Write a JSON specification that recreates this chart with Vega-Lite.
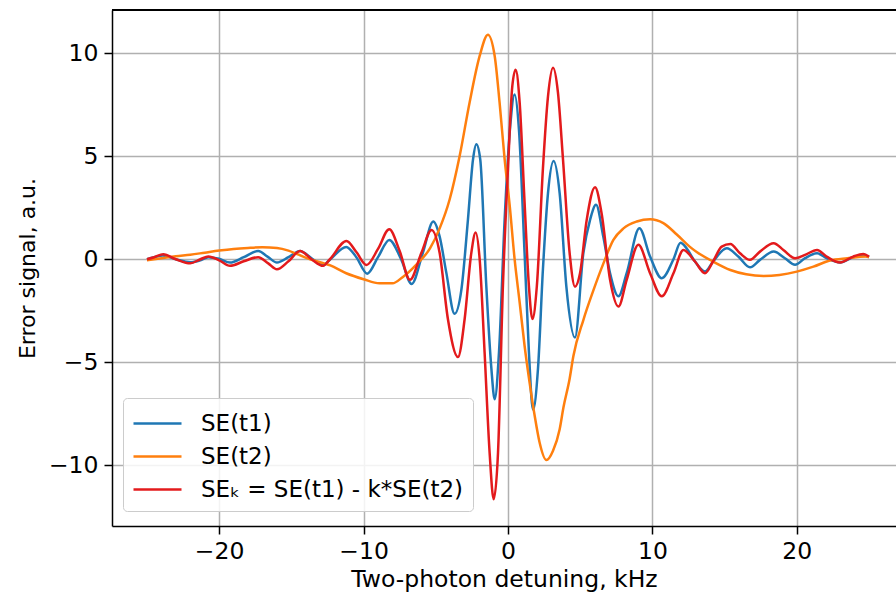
{
  "$schema": "https://vega.github.io/schema/vega-lite/v6.json",
  "autosize": "none",
  "width": 784,
  "height": 516,
  "padding": {"left": 112, "top": 10, "right": 0, "bottom": 75},
  "background": "white",
  "config": {
    "font": "DejaVu Sans",
    "view": {"stroke": null},
    "axis": {
      "labelFont": "DejaVu Sans", "labelFontSize": 23.5, "labelColor": "#000",
      "titleFont": "DejaVu Sans", "titleFontSize": 23.5, "titleFontWeight": "normal", "titleColor": "#000",
      "domainColor": "#000", "domainWidth": 1.5,
      "tickColor": "#000", "tickWidth": 1.5, "tickSize": 8,
      "gridColor": "#b0b0b0", "gridWidth": 1.5
    },
    "legend": {
      "labelFont": "DejaVu Sans", "labelFontSize": 23, "labelColor": "#000"
    }
  },
  "data": {"values": [
    {"x": -25.0, "y": 0.0, "s": "SE(t1)"},
    {"x": -24.5, "y": 0.1, "s": "SE(t1)"},
    {"x": -23.9, "y": 0.18, "s": "SE(t1)"},
    {"x": -23.0, "y": 0.0, "s": "SE(t1)"},
    {"x": -22.0, "y": -0.15, "s": "SE(t1)"},
    {"x": -21.3, "y": -0.05, "s": "SE(t1)"},
    {"x": -20.75, "y": 0.1, "s": "SE(t1)"},
    {"x": -20.0, "y": 0.02, "s": "SE(t1)"},
    {"x": -19.25, "y": -0.16, "s": "SE(t1)"},
    {"x": -18.3, "y": 0.1, "s": "SE(t1)"},
    {"x": -17.3, "y": 0.4, "s": "SE(t1)"},
    {"x": -16.6, "y": 0.1, "s": "SE(t1)"},
    {"x": -16.0, "y": -0.16, "s": "SE(t1)"},
    {"x": -15.2, "y": 0.1, "s": "SE(t1)"},
    {"x": -14.4, "y": 0.4, "s": "SE(t1)"},
    {"x": -13.6, "y": 0.05, "s": "SE(t1)"},
    {"x": -12.8, "y": -0.29, "s": "SE(t1)"},
    {"x": -12.3, "y": 0.0, "s": "SE(t1)"},
    {"x": -11.2, "y": 0.6, "s": "SE(t1)"},
    {"x": -10.5, "y": 0.1, "s": "SE(t1)"},
    {"x": -9.75, "y": -0.7, "s": "SE(t1)"},
    {"x": -9.0, "y": 0.1, "s": "SE(t1)"},
    {"x": -8.22, "y": 0.94, "s": "SE(t1)"},
    {"x": -7.4, "y": 0.0, "s": "SE(t1)"},
    {"x": -6.67, "y": -1.2, "s": "SE(t1)"},
    {"x": -5.9, "y": 0.3, "s": "SE(t1)"},
    {"x": -5.17, "y": 1.83, "s": "SE(t1)"},
    {"x": -4.73, "y": 1.1, "s": "SE(t1)"},
    {"x": -4.27, "y": -0.65, "s": "SE(t1)"},
    {"x": -3.7, "y": -2.65, "s": "SE(t1)"},
    {"x": -3.23, "y": -1.5, "s": "SE(t1)"},
    {"x": -2.77, "y": 1.94, "s": "SE(t1)"},
    {"x": -2.42, "y": 4.85, "s": "SE(t1)"},
    {"x": -2.19, "y": 5.58, "s": "SE(t1)"},
    {"x": -1.92, "y": 4.85, "s": "SE(t1)"},
    {"x": -1.5, "y": -1.3, "s": "SE(t1)"},
    {"x": -1.15, "y": -5.3, "s": "SE(t1)"},
    {"x": -0.92, "y": -6.8, "s": "SE(t1)"},
    {"x": -0.62, "y": -4.5, "s": "SE(t1)"},
    {"x": -0.23, "y": 1.94, "s": "SE(t1)"},
    {"x": 0.16, "y": 6.5, "s": "SE(t1)"},
    {"x": 0.46, "y": 8.0, "s": "SE(t1)"},
    {"x": 0.76, "y": 6.3, "s": "SE(t1)"},
    {"x": 1.15, "y": 0.3, "s": "SE(t1)"},
    {"x": 1.45, "y": -4.5, "s": "SE(t1)"},
    {"x": 1.73, "y": -7.3, "s": "SE(t1)"},
    {"x": 2.08, "y": -5.3, "s": "SE(t1)"},
    {"x": 2.42, "y": -0.5, "s": "SE(t1)"},
    {"x": 2.77, "y": 3.2, "s": "SE(t1)"},
    {"x": 3.16, "y": 4.77, "s": "SE(t1)"},
    {"x": 3.58, "y": 3.2, "s": "SE(t1)"},
    {"x": 4.04, "y": -1.3, "s": "SE(t1)"},
    {"x": 4.64, "y": -3.8, "s": "SE(t1)"},
    {"x": 5.22, "y": 0.3, "s": "SE(t1)"},
    {"x": 5.68, "y": 1.9, "s": "SE(t1)"},
    {"x": 6.1, "y": 2.64, "s": "SE(t1)"},
    {"x": 6.6, "y": 1.1, "s": "SE(t1)"},
    {"x": 7.07, "y": -0.68, "s": "SE(t1)"},
    {"x": 7.65, "y": -1.8, "s": "SE(t1)"},
    {"x": 8.22, "y": -0.68, "s": "SE(t1)"},
    {"x": 9.1, "y": 1.5, "s": "SE(t1)"},
    {"x": 9.84, "y": 0.13, "s": "SE(t1)"},
    {"x": 10.65, "y": -0.92, "s": "SE(t1)"},
    {"x": 11.46, "y": 0.0, "s": "SE(t1)"},
    {"x": 11.95, "y": 0.8, "s": "SE(t1)"},
    {"x": 12.37, "y": 0.53, "s": "SE(t1)"},
    {"x": 12.95, "y": -0.11, "s": "SE(t1)"},
    {"x": 13.64, "y": -0.6, "s": "SE(t1)"},
    {"x": 14.2, "y": -0.11, "s": "SE(t1)"},
    {"x": 15.15, "y": 0.53, "s": "SE(t1)"},
    {"x": 15.95, "y": 0.13, "s": "SE(t1)"},
    {"x": 16.76, "y": -0.39, "s": "SE(t1)"},
    {"x": 17.45, "y": -0.03, "s": "SE(t1)"},
    {"x": 18.4, "y": 0.37, "s": "SE(t1)"},
    {"x": 19.18, "y": 0.05, "s": "SE(t1)"},
    {"x": 19.88, "y": -0.27, "s": "SE(t1)"},
    {"x": 20.57, "y": 0.05, "s": "SE(t1)"},
    {"x": 21.4, "y": 0.29, "s": "SE(t1)"},
    {"x": 22.07, "y": 0.05, "s": "SE(t1)"},
    {"x": 23.0, "y": -0.16, "s": "SE(t1)"},
    {"x": 23.9, "y": 0.1, "s": "SE(t1)"},
    {"x": 24.6, "y": 0.2, "s": "SE(t1)"},
    {"x": 25.0, "y": 0.1, "s": "SE(t1)"},

    {"x": -25.0, "y": -0.05, "s": "SE(t2)"},
    {"x": -24.0, "y": 0.05, "s": "SE(t2)"},
    {"x": -23.0, "y": 0.15, "s": "SE(t2)"},
    {"x": -22.0, "y": 0.22, "s": "SE(t2)"},
    {"x": -21.0, "y": 0.32, "s": "SE(t2)"},
    {"x": -20.0, "y": 0.42, "s": "SE(t2)"},
    {"x": -19.0, "y": 0.5, "s": "SE(t2)"},
    {"x": -18.0, "y": 0.55, "s": "SE(t2)"},
    {"x": -17.0, "y": 0.58, "s": "SE(t2)"},
    {"x": -16.0, "y": 0.55, "s": "SE(t2)"},
    {"x": -15.2, "y": 0.42, "s": "SE(t2)"},
    {"x": -14.6, "y": 0.25, "s": "SE(t2)"},
    {"x": -13.7, "y": 0.0, "s": "SE(t2)"},
    {"x": -12.3, "y": -0.3, "s": "SE(t2)"},
    {"x": -11.2, "y": -0.68, "s": "SE(t2)"},
    {"x": -10.0, "y": -0.97, "s": "SE(t2)"},
    {"x": -8.9, "y": -1.17, "s": "SE(t2)"},
    {"x": -8.0, "y": -1.17, "s": "SE(t2)"},
    {"x": -7.3, "y": -0.87, "s": "SE(t2)"},
    {"x": -6.36, "y": -0.27, "s": "SE(t2)"},
    {"x": -5.4, "y": 0.53, "s": "SE(t2)"},
    {"x": -4.73, "y": 1.5, "s": "SE(t2)"},
    {"x": -4.04, "y": 2.9, "s": "SE(t2)"},
    {"x": -3.35, "y": 5.0, "s": "SE(t2)"},
    {"x": -2.66, "y": 7.6, "s": "SE(t2)"},
    {"x": -1.96, "y": 9.87, "s": "SE(t2)"},
    {"x": -1.39, "y": 10.9, "s": "SE(t2)"},
    {"x": -0.92, "y": 9.87, "s": "SE(t2)"},
    {"x": -0.58, "y": 7.6, "s": "SE(t2)"},
    {"x": -0.23, "y": 4.85, "s": "SE(t2)"},
    {"x": 0.12, "y": 2.6, "s": "SE(t2)"},
    {"x": 0.46, "y": 0.0, "s": "SE(t2)"},
    {"x": 0.81, "y": -2.1, "s": "SE(t2)"},
    {"x": 1.15, "y": -4.2, "s": "SE(t2)"},
    {"x": 1.5, "y": -6.0, "s": "SE(t2)"},
    {"x": 1.85, "y": -7.6, "s": "SE(t2)"},
    {"x": 2.19, "y": -8.9, "s": "SE(t2)"},
    {"x": 2.66, "y": -9.75, "s": "SE(t2)"},
    {"x": 3.12, "y": -9.3, "s": "SE(t2)"},
    {"x": 3.58, "y": -8.25, "s": "SE(t2)"},
    {"x": 3.84, "y": -7.2, "s": "SE(t2)"},
    {"x": 4.27, "y": -5.8, "s": "SE(t2)"},
    {"x": 4.53, "y": -4.7, "s": "SE(t2)"},
    {"x": 5.22, "y": -2.95, "s": "SE(t2)"},
    {"x": 5.92, "y": -1.5, "s": "SE(t2)"},
    {"x": 6.61, "y": -0.2, "s": "SE(t2)"},
    {"x": 7.3, "y": 0.94, "s": "SE(t2)"},
    {"x": 8.0, "y": 1.5, "s": "SE(t2)"},
    {"x": 8.92, "y": 1.83, "s": "SE(t2)"},
    {"x": 9.84, "y": 1.94, "s": "SE(t2)"},
    {"x": 10.76, "y": 1.75, "s": "SE(t2)"},
    {"x": 11.69, "y": 1.2, "s": "SE(t2)"},
    {"x": 12.6, "y": 0.6, "s": "SE(t2)"},
    {"x": 13.07, "y": 0.35, "s": "SE(t2)"},
    {"x": 14.2, "y": -0.11, "s": "SE(t2)"},
    {"x": 15.4, "y": -0.52, "s": "SE(t2)"},
    {"x": 16.5, "y": -0.73, "s": "SE(t2)"},
    {"x": 17.7, "y": -0.81, "s": "SE(t2)"},
    {"x": 18.8, "y": -0.76, "s": "SE(t2)"},
    {"x": 20.0, "y": -0.6, "s": "SE(t2)"},
    {"x": 21.15, "y": -0.36, "s": "SE(t2)"},
    {"x": 22.3, "y": -0.06, "s": "SE(t2)"},
    {"x": 23.5, "y": 0.05, "s": "SE(t2)"},
    {"x": 24.8, "y": 0.13, "s": "SE(t2)"},
    {"x": 25.0, "y": 0.1, "s": "SE(t2)"},

    {"x": -25.0, "y": 0.0, "s": "SEₖ = SE(t1) - k*SE(t2)"},
    {"x": -24.5, "y": 0.1, "s": "SEₖ = SE(t1) - k*SE(t2)"},
    {"x": -23.87, "y": 0.24, "s": "SEₖ = SE(t1) - k*SE(t2)"},
    {"x": -23.0, "y": 0.0, "s": "SEₖ = SE(t1) - k*SE(t2)"},
    {"x": -22.0, "y": -0.2, "s": "SEₖ = SE(t1) - k*SE(t2)"},
    {"x": -21.3, "y": 0.0, "s": "SEₖ = SE(t1) - k*SE(t2)"},
    {"x": -20.75, "y": 0.13, "s": "SEₖ = SE(t1) - k*SE(t2)"},
    {"x": -20.0, "y": -0.05, "s": "SEₖ = SE(t1) - k*SE(t2)"},
    {"x": -19.25, "y": -0.32, "s": "SEₖ = SE(t1) - k*SE(t2)"},
    {"x": -18.3, "y": -0.1, "s": "SEₖ = SE(t1) - k*SE(t2)"},
    {"x": -17.3, "y": 0.1, "s": "SEₖ = SE(t1) - k*SE(t2)"},
    {"x": -16.6, "y": -0.2, "s": "SEₖ = SE(t1) - k*SE(t2)"},
    {"x": -16.0, "y": -0.49, "s": "SEₖ = SE(t1) - k*SE(t2)"},
    {"x": -15.2, "y": -0.1, "s": "SEₖ = SE(t1) - k*SE(t2)"},
    {"x": -14.4, "y": 0.4, "s": "SEₖ = SE(t1) - k*SE(t2)"},
    {"x": -13.6, "y": 0.0, "s": "SEₖ = SE(t1) - k*SE(t2)"},
    {"x": -12.8, "y": -0.32, "s": "SEₖ = SE(t1) - k*SE(t2)"},
    {"x": -12.33, "y": 0.0, "s": "SEₖ = SE(t1) - k*SE(t2)"},
    {"x": -11.18, "y": 0.89, "s": "SEₖ = SE(t1) - k*SE(t2)"},
    {"x": -10.5, "y": 0.35, "s": "SEₖ = SE(t1) - k*SE(t2)"},
    {"x": -9.79, "y": -0.28, "s": "SEₖ = SE(t1) - k*SE(t2)"},
    {"x": -9.0, "y": 0.5, "s": "SEₖ = SE(t1) - k*SE(t2)"},
    {"x": -8.22, "y": 1.46, "s": "SEₖ = SE(t1) - k*SE(t2)"},
    {"x": -7.5, "y": 0.4, "s": "SEₖ = SE(t1) - k*SE(t2)"},
    {"x": -6.79, "y": -1.0, "s": "SEₖ = SE(t1) - k*SE(t2)"},
    {"x": -6.0, "y": 0.3, "s": "SEₖ = SE(t1) - k*SE(t2)"},
    {"x": -5.29, "y": 1.42, "s": "SEₖ = SE(t1) - k*SE(t2)"},
    {"x": -4.73, "y": 0.3, "s": "SEₖ = SE(t1) - k*SE(t2)"},
    {"x": -4.16, "y": -2.9, "s": "SEₖ = SE(t1) - k*SE(t2)"},
    {"x": -3.46, "y": -4.75, "s": "SEₖ = SE(t1) - k*SE(t2)"},
    {"x": -3.0, "y": -2.9, "s": "SEₖ = SE(t1) - k*SE(t2)"},
    {"x": -2.54, "y": 0.3, "s": "SEₖ = SE(t1) - k*SE(t2)"},
    {"x": -2.24, "y": 1.3, "s": "SEₖ = SE(t1) - k*SE(t2)"},
    {"x": -1.96, "y": 0.0, "s": "SEₖ = SE(t1) - k*SE(t2)"},
    {"x": -1.62, "y": -4.5, "s": "SEₖ = SE(t1) - k*SE(t2)"},
    {"x": -1.27, "y": -9.4, "s": "SEₖ = SE(t1) - k*SE(t2)"},
    {"x": -0.99, "y": -11.65, "s": "SEₖ = SE(t1) - k*SE(t2)"},
    {"x": -0.69, "y": -9.4, "s": "SEₖ = SE(t1) - k*SE(t2)"},
    {"x": -0.35, "y": -1.3, "s": "SEₖ = SE(t1) - k*SE(t2)"},
    {"x": 0.0, "y": 4.4, "s": "SEₖ = SE(t1) - k*SE(t2)"},
    {"x": 0.3, "y": 8.4, "s": "SEₖ = SE(t1) - k*SE(t2)"},
    {"x": 0.53, "y": 9.2, "s": "SEₖ = SE(t1) - k*SE(t2)"},
    {"x": 0.81, "y": 7.6, "s": "SEₖ = SE(t1) - k*SE(t2)"},
    {"x": 1.15, "y": 2.75, "s": "SEₖ = SE(t1) - k*SE(t2)"},
    {"x": 1.45, "y": -1.3, "s": "SEₖ = SE(t1) - k*SE(t2)"},
    {"x": 1.69, "y": -2.9, "s": "SEₖ = SE(t1) - k*SE(t2)"},
    {"x": 2.0, "y": -1.3, "s": "SEₖ = SE(t1) - k*SE(t2)"},
    {"x": 2.42, "y": 4.4, "s": "SEₖ = SE(t1) - k*SE(t2)"},
    {"x": 2.77, "y": 7.9, "s": "SEₖ = SE(t1) - k*SE(t2)"},
    {"x": 3.12, "y": 9.3, "s": "SEₖ = SE(t1) - k*SE(t2)"},
    {"x": 3.46, "y": 8.1, "s": "SEₖ = SE(t1) - k*SE(t2)"},
    {"x": 3.81, "y": 4.85, "s": "SEₖ = SE(t1) - k*SE(t2)"},
    {"x": 4.27, "y": 0.3, "s": "SEₖ = SE(t1) - k*SE(t2)"},
    {"x": 4.64, "y": -1.33, "s": "SEₖ = SE(t1) - k*SE(t2)"},
    {"x": 4.99, "y": -0.68, "s": "SEₖ = SE(t1) - k*SE(t2)"},
    {"x": 5.45, "y": 1.9, "s": "SEₖ = SE(t1) - k*SE(t2)"},
    {"x": 6.03, "y": 3.5, "s": "SEₖ = SE(t1) - k*SE(t2)"},
    {"x": 6.49, "y": 2.2, "s": "SEₖ = SE(t1) - k*SE(t2)"},
    {"x": 7.07, "y": -1.0, "s": "SEₖ = SE(t1) - k*SE(t2)"},
    {"x": 7.65, "y": -2.3, "s": "SEₖ = SE(t1) - k*SE(t2)"},
    {"x": 8.22, "y": -1.0, "s": "SEₖ = SE(t1) - k*SE(t2)"},
    {"x": 9.03, "y": 0.7, "s": "SEₖ = SE(t1) - k*SE(t2)"},
    {"x": 9.84, "y": -0.68, "s": "SEₖ = SE(t1) - k*SE(t2)"},
    {"x": 10.65, "y": -1.8, "s": "SEₖ = SE(t1) - k*SE(t2)"},
    {"x": 11.46, "y": -0.68, "s": "SEₖ = SE(t1) - k*SE(t2)"},
    {"x": 12.15, "y": 0.45, "s": "SEₖ = SE(t1) - k*SE(t2)"},
    {"x": 12.95, "y": -0.11, "s": "SEₖ = SE(t1) - k*SE(t2)"},
    {"x": 13.64, "y": -0.68, "s": "SEₖ = SE(t1) - k*SE(t2)"},
    {"x": 14.2, "y": -0.11, "s": "SEₖ = SE(t1) - k*SE(t2)"},
    {"x": 14.8, "y": 0.61, "s": "SEₖ = SE(t1) - k*SE(t2)"},
    {"x": 15.4, "y": 0.74, "s": "SEₖ = SE(t1) - k*SE(t2)"},
    {"x": 16.07, "y": 0.29, "s": "SEₖ = SE(t1) - k*SE(t2)"},
    {"x": 16.76, "y": -0.03, "s": "SEₖ = SE(t1) - k*SE(t2)"},
    {"x": 17.45, "y": 0.37, "s": "SEₖ = SE(t1) - k*SE(t2)"},
    {"x": 18.4, "y": 0.78, "s": "SEₖ = SE(t1) - k*SE(t2)"},
    {"x": 19.07, "y": 0.45, "s": "SEₖ = SE(t1) - k*SE(t2)"},
    {"x": 19.88, "y": 0.05, "s": "SEₖ = SE(t1) - k*SE(t2)"},
    {"x": 20.57, "y": 0.21, "s": "SEₖ = SE(t1) - k*SE(t2)"},
    {"x": 21.4, "y": 0.45, "s": "SEₖ = SE(t1) - k*SE(t2)"},
    {"x": 22.07, "y": 0.13, "s": "SEₖ = SE(t1) - k*SE(t2)"},
    {"x": 23.0, "y": -0.16, "s": "SEₖ = SE(t1) - k*SE(t2)"},
    {"x": 23.9, "y": 0.13, "s": "SEₖ = SE(t1) - k*SE(t2)"},
    {"x": 24.6, "y": 0.26, "s": "SEₖ = SE(t1) - k*SE(t2)"},
    {"x": 25.0, "y": 0.13, "s": "SEₖ = SE(t1) - k*SE(t2)"}
  ]},
  "layer": [
    {
      "mark": {"type": "line", "strokeWidth": 2.5, "interpolate": "monotone", "clip": true},
      "encoding": {
        "x": {
          "field": "x", "type": "quantitative",
          "scale": {"domain": [-27.42, 26.87], "nice": false, "zero": false},
          "axis": {"values": [-20, -10, 0, 10, 20], "title": "Two-photon detuning, kHz", "labelPadding": 5, "titlePadding": 5, "grid": true}
        },
        "y": {
          "field": "y", "type": "quantitative",
          "scale": {"domain": [-12.95, 12.1], "nice": false, "zero": false},
          "axis": {"values": [-10, -5, 0, 5, 10], "title": "Error signal, a.u.", "titleFontSize": 22, "labelPadding": 6, "titlePadding": 9, "grid": true}
        },
        "color": {
          "field": "s", "type": "nominal",
          "scale": {"domain": ["SE(t1)", "SE(t2)", "SEₖ = SE(t1) - k*SE(t2)"], "range": ["#1f77b4", "#ff7f0e", "#e31a1c"]},
          "legend": {
            "title": null, "orient": "none", "legendX": 11, "legendY": 388,
            "symbolType": "M-1,0H2.2", "symbolSize": 900, "symbolStrokeWidth": 2.5,
            "labelOffset": 36, "labelLimit": 0, "padding": 9, "rowPadding": 4,
            "fillColor": "rgba(255,255,255,0.85)", "strokeColor": "#cccccc", "cornerRadius": 4
          }
        }
      }
    },
    {
      "mark": {"type": "rule", "color": "#000", "strokeWidth": 1.5},
      "encoding": {"y": {"datum": 12.1}}
    }
  ]
}
